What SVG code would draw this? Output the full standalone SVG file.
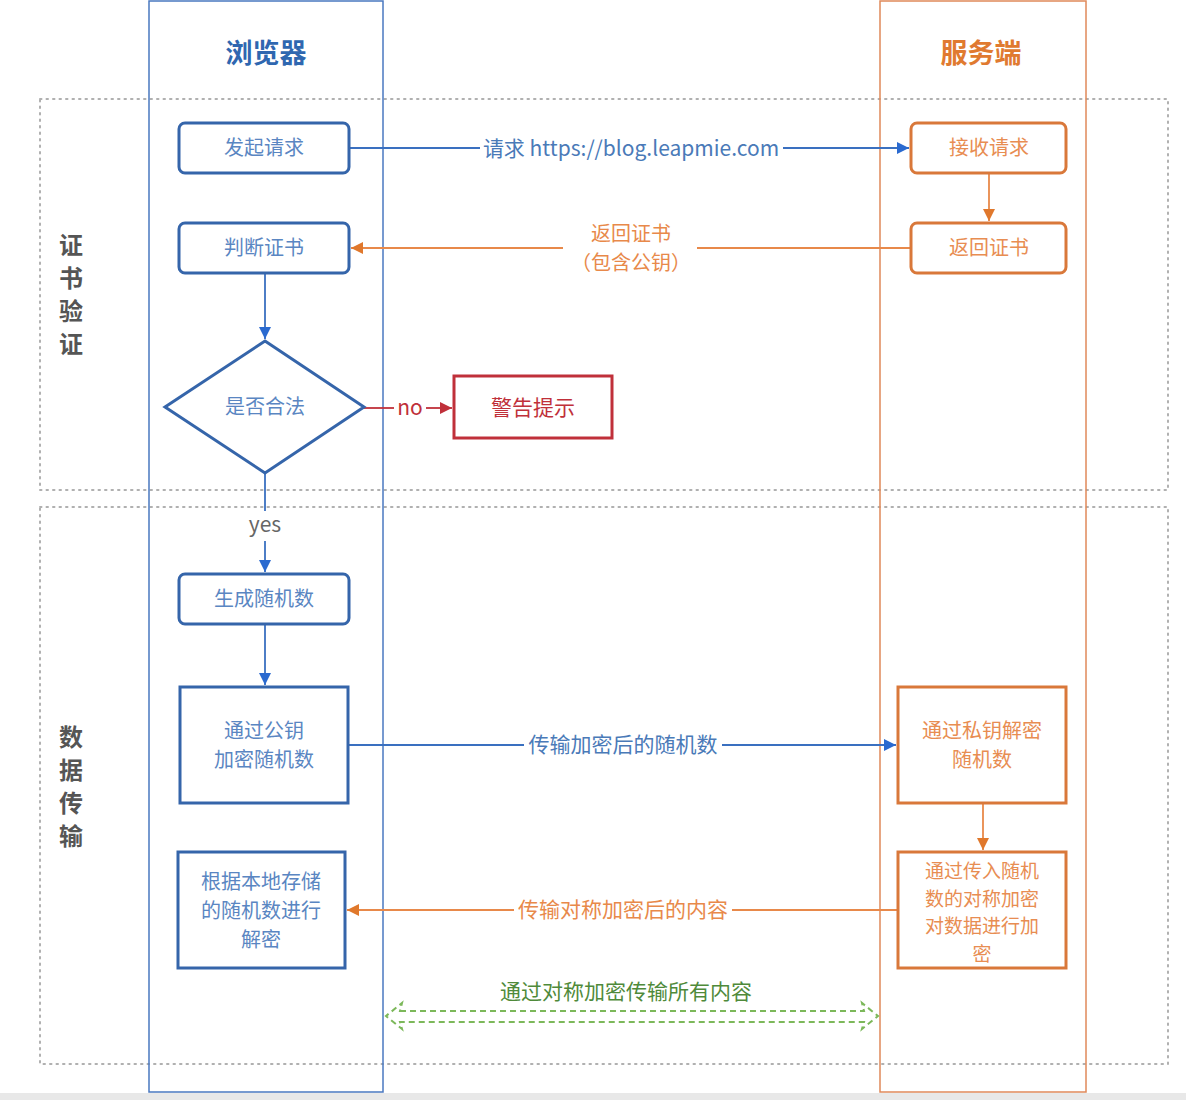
<svg xmlns="http://www.w3.org/2000/svg" width="1186" height="1100" viewBox="0 0 1186 1100">
<style>
text{font-family:"Noto Sans CJK SC","Liberation Sans",sans-serif;}
.lane-b{fill:none;stroke:#4a78c0;stroke-width:1.5}
.lane-o{fill:none;stroke:#e0895a;stroke-width:1.5}
.sec{fill:none;stroke:#b0b0b0;stroke-width:2;stroke-dasharray:1.5 5;stroke-linecap:round}
.nb{fill:#fff;stroke:#3565aa;stroke-width:3}
.no{fill:#fff;stroke:#d9783a;stroke-width:3}
.nr{fill:#fff;stroke:#c0303a;stroke-width:3}
.tb{fill:#5a86c2;font-size:20px;text-anchor:middle}
.to{fill:#e88d52;font-size:20px;text-anchor:middle}
.tr{fill:#c0303a;font-size:21px;text-anchor:middle}
.sm{font-size:19px}
.side{fill:#555;font-size:24px;font-weight:bold;text-anchor:middle}
.cb{stroke:#3a70c0;stroke-width:1.8;fill:none}
.co{stroke:#e8894a;stroke-width:1.8;fill:none}
.cr{stroke:#c0303a;stroke-width:1.8;fill:none}
.lbl{font-size:21px;text-anchor:middle}
.lbb{fill:#4a7ab8}
.lbo{fill:#e8894a}
</style>
<defs>
<marker id="ab" viewBox="0 0 10 10" refX="10" refY="5" markerWidth="12" markerHeight="12" markerUnits="userSpaceOnUse" orient="auto"><path d="M0,0 L10,5 L0,10 Z" fill="#2a6ad0"/></marker>
<marker id="ao" viewBox="0 0 10 10" refX="10" refY="5" markerWidth="12" markerHeight="12" markerUnits="userSpaceOnUse" orient="auto"><path d="M0,0 L10,5 L0,10 Z" fill="#e0782c"/></marker>
<marker id="ar" viewBox="0 0 10 10" refX="10" refY="5" markerWidth="12" markerHeight="12" markerUnits="userSpaceOnUse" orient="auto"><path d="M0,0 L10,5 L0,10 Z" fill="#c0303a"/></marker>
</defs>
<rect width="1186" height="1100" fill="#fff"/>
<rect x="0" y="1093" width="1186" height="7" fill="#e8e8e8"/>
<!-- sections -->
<g id="section-cert">
<rect class="sec" x="40" y="99" width="1128" height="391"/>
<text class="side" x="71" y="254">证</text>
<text class="side" x="71" y="287">书</text>
<text class="side" x="71" y="320">验</text>
<text class="side" x="71" y="353">证</text>
</g>
<g id="section-data">
<rect class="sec" x="40" y="507" width="1128" height="557"/>
<text class="side" x="71" y="746">数</text>
<text class="side" x="71" y="779">据</text>
<text class="side" x="71" y="812">传</text>
<text class="side" x="71" y="845">输</text>
</g>
<!-- lanes -->
<g id="lane-browser">
<rect class="lane-b" x="149" y="1" width="234" height="1091"/>
<text x="266" y="63" style="fill:#2f67b0;font-size:27px;font-weight:bold;text-anchor:middle">浏览器</text>
</g>
<g id="lane-server">
<rect class="lane-o" x="880" y="1" width="206" height="1091"/>
<text x="981" y="63" style="fill:#e07a30;font-size:27px;font-weight:bold;text-anchor:middle">服务端</text>
</g>
<!-- connectors -->
<g id="connectors">
<path class="cb" d="M349,148 H480"/>
<path class="cb" d="M783,148 H909" marker-end="url(#ab)"/>
<text class="lbl lbb" x="631" y="156">请求 https://blog.leapmie.com</text>
<path class="co" d="M989,173 V221" marker-end="url(#ao)"/>
<path class="co" d="M911,248 H697"/>
<path class="co" d="M563,248 H351" marker-end="url(#ao)"/>
<text class="lbo" x="631" y="241" style="font-size:20px;text-anchor:middle">返回证书</text>
<text class="lbo" x="631" y="270" style="font-size:20px;text-anchor:middle">（包含公钥）</text>
<path class="cb" d="M265,273 V339" marker-end="url(#ab)"/>
<path class="cr" d="M364,408 H394"/>
<path class="cr" d="M426,408 H452" marker-end="url(#ar)"/>
<text class="lbl" x="410" y="415" style="fill:#c0303a">no</text>
<path class="cb" d="M265,473 V511"/>
<path class="cb" d="M265,541 V572" marker-end="url(#ab)"/>
<text class="lbl" x="265" y="532" style="fill:#666">yes</text>
<path class="cb" d="M265,624 V685" marker-end="url(#ab)"/>
<path class="cb" d="M348,745 H524"/>
<path class="cb" d="M722,745 H896" marker-end="url(#ab)"/>
<text class="lbl lbb" x="623" y="752">传输加密后的随机数</text>
<path class="co" d="M983,803 V850" marker-end="url(#ao)"/>
<path class="co" d="M898,910 H732"/>
<path class="co" d="M514,910 H347" marker-end="url(#ao)"/>
<text class="lbl lbo" x="623" y="917">传输对称加密后的内容</text>
<path d="M400,1011 H864 L862,1003 L878,1016 L862,1029 L864,1022 H400 L402,1029 L386,1016 L402,1003 Z" fill="none" stroke="#7cb85a" stroke-width="2" stroke-dasharray="6 4"/>
<text x="626" y="999" style="fill:#4f8a3a;font-size:21px;text-anchor:middle">通过对称加密传输所有内容</text>
</g>
<!-- nodes -->
<g id="n-fqqq"><rect class="nb" x="179" y="123" width="170" height="50" rx="6"/><text class="tb" x="264" y="155">发起请求</text></g>
<g id="n-jsqq"><rect class="no" x="911" y="123" width="155" height="50" rx="6"/><text class="to" x="989" y="155">接收请求</text></g>
<g id="n-pdzs"><rect class="nb" x="179" y="223" width="170" height="50" rx="6"/><text class="tb" x="264" y="255">判断证书</text></g>
<g id="n-fhzs"><rect class="no" x="911" y="223" width="155" height="50" rx="6"/><text class="to" x="989" y="255">返回证书</text></g>
<g id="n-sfhf"><path class="nb" d="M265,341 L364,407 L265,473 L165,407 Z"/><text class="tb" x="265" y="414">是否合法</text></g>
<g id="n-jgts"><rect class="nr" x="454" y="376" width="158" height="62"/><text class="tr" x="533" y="415">警告提示</text></g>
<g id="n-scsjs"><rect class="nb" x="179" y="574" width="170" height="50" rx="6"/><text class="tb" x="264" y="606">生成随机数</text></g>
<g id="n-gyjm"><rect class="nb" x="180" y="687" width="168" height="116"/><text class="tb" x="264" y="738">通过公钥</text><text class="tb" x="264" y="767">加密随机数</text></g>
<g id="n-sypjm"><rect class="no" x="898" y="687" width="168" height="116"/><text class="to" x="982" y="738">通过私钥解密</text><text class="to" x="982" y="767">随机数</text></g>
<g id="n-dcjm"><rect class="no" x="898" y="852" width="168" height="116"/><text class="to sm" x="982" y="878">通过传入随机</text><text class="to sm" x="982" y="905.5">数的对称加密</text><text class="to sm" x="982" y="933">对数据进行加</text><text class="to sm" x="982" y="960.5">密</text></g>
<g id="n-bdjm"><rect class="nb" x="178" y="852" width="167" height="116"/><text class="tb" x="261" y="889">根据本地存储</text><text class="tb" x="261" y="918">的随机数进行</text><text class="tb" x="261" y="947">解密</text></g>
</svg>
